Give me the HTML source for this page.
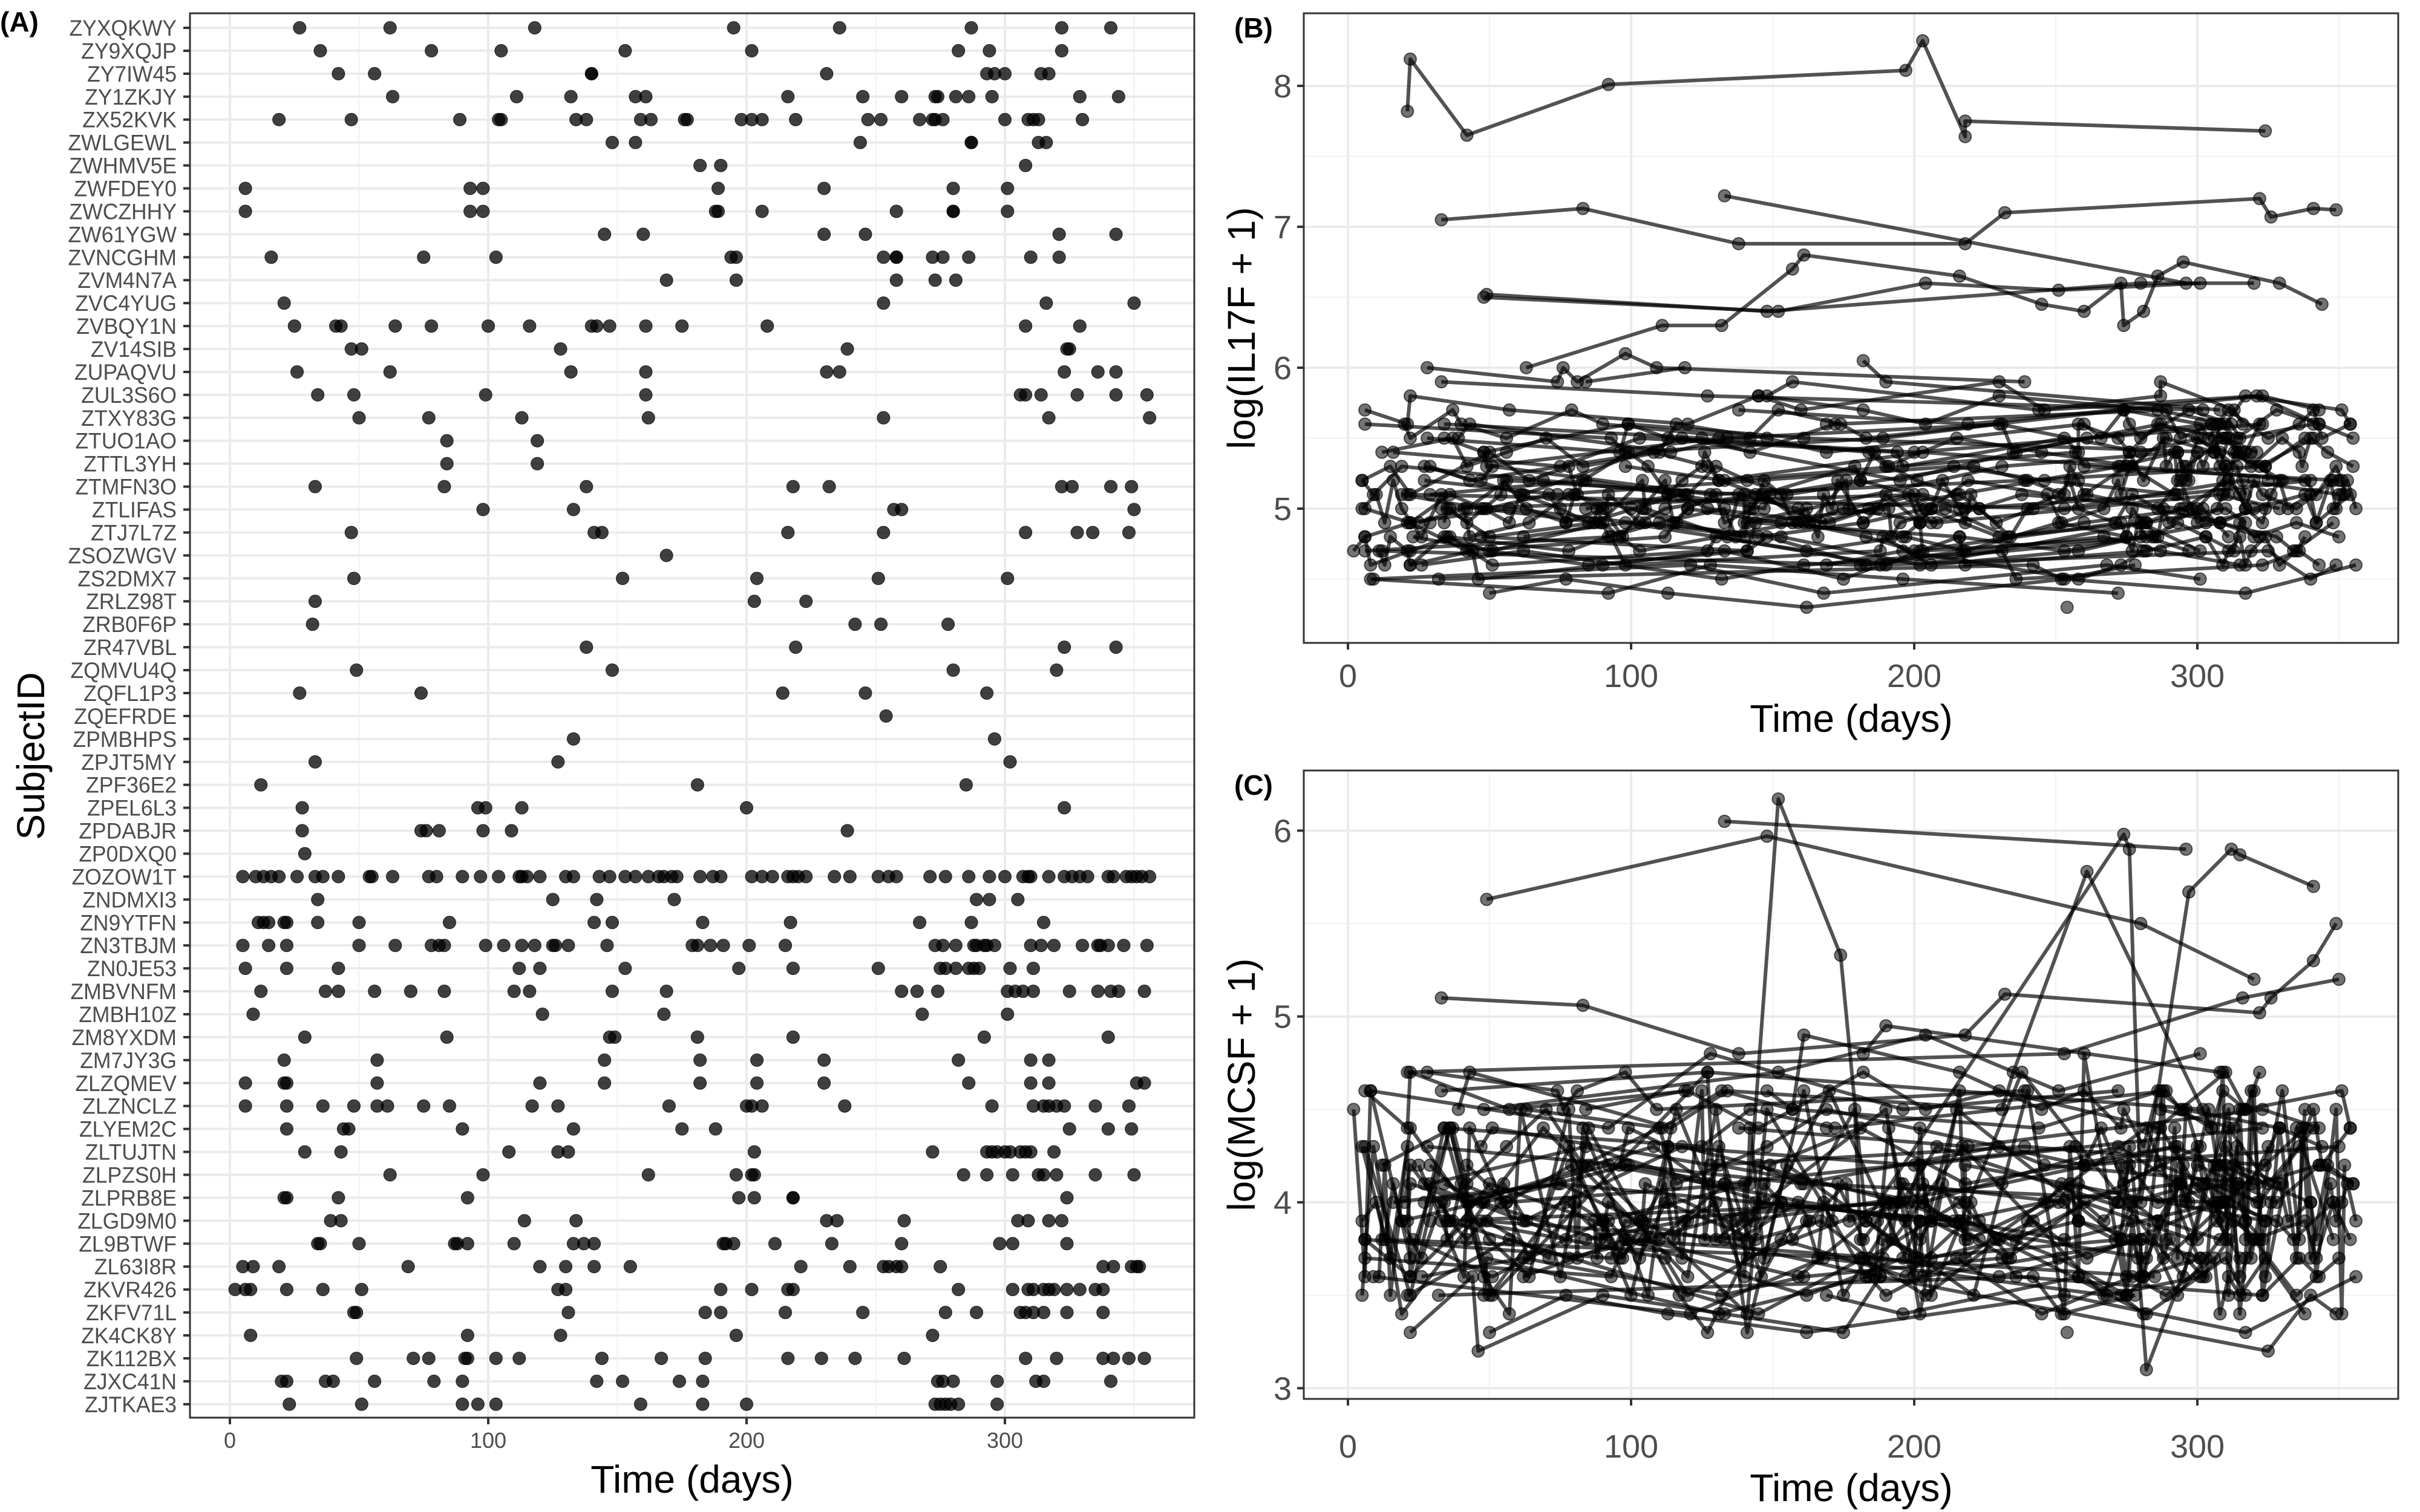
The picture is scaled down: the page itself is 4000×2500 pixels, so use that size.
<!DOCTYPE html>
<html><head><meta charset="utf-8"><style>
html,body{margin:0;padding:0;background:#fff;}
svg{display:block;font-family:"Liberation Sans",Arial,sans-serif;}
</style></head><body>
<svg id="fig" width="4000" height="2500" viewBox="0 0 4000 2500" xmlns="http://www.w3.org/2000/svg">
<rect x="0" y="0" width="4000" height="2500" fill="#fff"/>
<g id="pa"></g>
<g id="pb"></g>
<g id="pc"></g>
</svg>
<script>
const subjects = ["ZYXQKWY","ZY9XQJP","ZY7IW45","ZY1ZKJY","ZX52KVK","ZWLGEWL","ZWHMV5E","ZWFDEY0","ZWCZHHY","ZW61YGW","ZVNCGHM","ZVM4N7A","ZVC4YUG","ZVBQY1N","ZV14SIB","ZUPAQVU","ZUL3S6O","ZTXY83G","ZTUO1AO","ZTTL3YH","ZTMFN3O","ZTLIFAS","ZTJ7L7Z","ZSOZWGV","ZS2DMX7","ZRLZ98T","ZRB0F6P","ZR47VBL","ZQMVU4Q","ZQFL1P3","ZQEFRDE","ZPMBHPS","ZPJT5MY","ZPF36E2","ZPEL6L3","ZPDABJR","ZP0DXQ0","ZOZOW1T","ZNDMXI3","ZN9YTFN","ZN3TBJM","ZN0JE53","ZMBVNFM","ZMBH10Z","ZM8YXDM","ZM7JY3G","ZLZQMEV","ZLZNCLZ","ZLYEM2C","ZLTUJTN","ZLPZS0H","ZLPRB8E","ZLGD9M0","ZL9BTWF","ZL63I8R","ZKVR426","ZKFV71L","ZK4CK8Y","ZK112BX","ZJXC41N","ZJTKAE3"];
const visitDays = [
[27,62,118,195,236,287,322,341],
[35,78,105,153,202,282,294,322],
[42,56,140,140,231,293,296,300,314,317],
[63,111,132,157,161,216,245,260,273,274,281,286,295,329,344],
[19,47,89,104,105,134,138,159,163,176,177,198,202,206,219,247,252,267,272,273,276,300,309,311,313,330],
[148,157,244,287,287,313,316],
[182,190,308],
[6,93,98,189,230,280,301],
[6,93,98,188,189,206,258,280,280,301],
[145,160,230,246,321,343],
[16,75,103,194,196,253,258,258,272,276,286,310,321],
[169,196,258,273,281],
[21,253,316,350],
[25,41,43,64,78,100,116,140,142,147,161,175,208,308,329],
[47,51,128,239,324,325],
[26,62,132,161,231,236,323,336,343],
[34,48,99,161,306,308,314,328,343,355],
[50,77,113,162,253,317,356],
[84,119],
[84,119],
[33,83,138,218,232,322,326,341,349],
[98,133,257,260,350],
[47,141,144,216,253,308,328,334,348],
[169],
[48,152,204,251,301],
[33,203,223],
[32,242,252,278],
[138,219,323,343],
[49,148,280,320],
[27,74,214,246,293],
[254],
[133,296],
[33,127,302],
[12,181,285],
[28,96,99,113,200,323],
[28,74,76,81,98,109,239],
[29],
[5,10,13,16,19,26,33,36,42,54,55,63,77,80,90,97,104,112,113,115,120,130,133,143,147,153,157,162,166,168,171,173,182,187,190,202,206,210,216,218,220,223,234,240,251,255,258,271,277,286,294,300,307,309,310,317,323,326,329,332,340,342,347,349,351,353,356],
[34,125,142,172,289,294,305],
[11,13,15,21,22,34,50,85,141,148,183,217,267,287,315],
[5,15,22,50,64,78,81,83,99,106,113,118,125,126,131,146,179,181,186,191,201,215,273,276,281,288,289,292,293,296,310,314,319,330,336,337,340,346,355],
[6,22,42,112,120,153,197,218,251,275,277,281,286,288,290,302,311],
[12,37,42,56,70,83,110,116,148,169,260,266,274,301,304,307,311,325,336,341,344,354],
[9,121,168,268,301],
[29,84,147,149,181,218,292,340],
[21,57,145,182,204,230,282,310,317],
[6,21,22,57,120,145,182,204,230,286,310,317,351,354],
[6,22,36,48,57,61,75,85,117,127,170,200,202,206,238,295,311,315,317,320,323,335,348],
[22,44,46,90,133,175,188,325,340,349],
[29,43,108,127,131,203,272,293,295,297,300,302,306,308,310,319],
[62,98,162,196,202,203,284,293,303,313,315,320,335,350],
[21,22,42,92,197,203,218,218,324],
[39,43,114,134,231,235,261,305,309,317,322],
[34,35,50,87,88,92,110,133,137,141,191,192,195,211,233,260,298,303,324],
[5,9,19,69,120,130,141,155,221,240,253,255,258,260,275,338,342,349,351,352],
[2,6,8,22,36,51,127,130,190,202,216,218,282,303,309,311,315,317,319,324,329,335,338],
[48,49,131,184,190,215,245,277,289,306,308,311,315,324,338],
[8,92,128,196,272],
[49,71,77,91,92,103,112,144,167,184,216,229,242,261,308,320,338,342,348,354],
[20,22,37,40,56,79,90,142,152,174,183,274,276,280,297,312,315,341],
[23,51,90,96,103,159,183,200,273,275,277,279,282,297]
];
const il17f = [
[5.3,5.1,5.5,5.2,5.4,5.6,5.3,5.5],
[4.8,4.7,4.9,4.8,4.6,4.9,5.0,4.8],
[5.0,5.2,5.1,4.9,5.3,5.4,5.2,5.5,5.3,5.1],
[6.0,6.3,6.3,6.7,6.8,6.65,6.45,6.4,6.6,6.3,6.4,6.65,6.75,6.6,6.45],
[5.1,5.0,4.9,5.2,5.0,4.8,5.1,5.0,4.9,5.2,5.0,5.1,4.9,5.0,5.2,5.1,4.9,5.0,5.2,5.1,5.3,5.0,5.2,5.1,5.4,5.2],
[5.8,5.9,5.7,5.8,5.9,5.7,5.6],
[6.05,5.9,5.7],
[5.6,5.5,5.4,5.5,5.6,5.4,5.5],
[4.7,4.8,4.6,4.7,4.8,4.6,4.7,4.8,4.9,4.7],
[5.8,5.7,5.9,5.7,5.8,5.6],
[5.4,5.3,5.5,5.4,5.3,5.5,5.4,5.6,5.5,5.4,5.6,5.5,5.4],
[4.6,4.7,4.5,4.6,4.7],
[5.1,5.0,5.2,5.1],
[4.9,5.0,4.8,4.9,5.1,5.0,4.9,4.8,5.0,5.1,4.9,5.0,4.9,5.1,5.0],
[5.2,5.3,5.1,5.2,5.3,5.2],
[4.6,4.7,4.5,4.6,4.7,4.5,4.6,4.7,4.6],
[5.5,5.4,5.6,5.5,5.4,5.6,5.5,5.7,5.6,5.5],
[4.4,4.5,4.4,4.3,4.5,4.4,4.6],
[5.9,6.0],
[5.0,5.1],
[7.05,7.13,6.88,6.88,7.1,7.2,7.07,7.13,7.12],
[5.3,5.2,5.4,5.3,5.2],
[4.8,4.7,4.9,4.8,4.7,4.9,4.8,4.7,4.9],
[5.6],
[6.5,6.4,6.6,6.55,6.6],
[5.0,5.1,5.0],
[4.5,4.6,4.5,4.6],
[5.7,5.6,5.8,5.7],
[6.52,6.4,6.6,6.6],
[5.2,5.1,5.3,5.2,5.1],
[4.3],
[7.22,6.6],
[5.9,5.8,5.7],
[4.7,4.6,4.8],
[5.5,5.4,5.6,5.5,5.4,5.6],
[6.0,5.9,6.0,5.9,6.1,6.0,5.9],
[4.9],
[5.0,5.1,4.9,5.2,5.0,4.8,5.1,5.0,4.9,5.1,5.2,5.0,4.9,5.1,5.0,4.8,5.0,5.2,5.1,4.9,5.0,5.1,4.9,5.0,5.2,5.1,4.9,5.0,4.8,5.1,5.0,5.2,4.9,5.0,5.1,4.9,5.0,5.2,5.0,4.9,5.1,5.0,4.8,5.0,5.1,5.2,5.0,4.9,5.1,5.0,5.2,4.9,5.0,5.1,5.3,5.0,4.9,5.1,5.2,5.0,5.1,4.9,5.2,5.0,5.1,5.2,5.0],
[5.6,5.5,5.4,5.6,5.7,5.5,5.6],
[4.7,4.6,4.8,4.7,4.6,4.8,4.7,4.6,4.7,4.8,4.6,4.7,4.8,4.7,4.6],
[5.2,5.3,5.1,5.4,5.2,5.3,5.1,5.2,5.4,5.3,5.1,5.2,5.3,5.4,5.2,5.1,5.3,5.2,5.4,5.3,5.2,5.1,5.3,5.4,5.2,5.5,5.3,5.4,5.2,5.3,5.5,5.4,5.3,5.5,5.4,5.3,5.5,5.4,5.3],
[4.8,4.9,4.7,4.8,5.0,4.9,4.8,4.7,4.9,4.8,5.0,4.9,4.8,5.0,4.9,5.0,4.8],
[5.4,5.5,5.3,5.4,5.5,5.3,5.4,5.6,5.5,5.4,5.6,5.5,5.7,5.6,5.5,5.6,5.7,5.5,5.6,5.7,5.5,5.6],
[4.5,4.6,4.4,4.6,4.5],
[5.1,5.2,5.0,5.1,5.2,5.0,5.1,5.2],
[4.9,5.0,4.8,4.9,5.0,4.8,4.9,5.0,4.9],
[5.7,5.6,5.8,5.7,5.6,5.8,5.7,5.6,5.8,5.7,5.6,5.8,5.7,5.6],
[5.0,4.9,5.1,5.0,4.9,5.1,5.0,4.9,5.1,5.0,4.9,5.1,5.0,4.9,5.1,5.0,5.2,5.1,5.0,5.2,5.1,5.0,5.2],
[4.6,4.7,4.5,4.6,4.7,4.5,4.6,4.7,4.5,4.6],
[5.3,5.2,5.4,5.3,5.2,5.4,5.3,5.4,5.3,5.2,5.4,5.3,5.5,5.4,5.3,5.4],
[4.8,4.9,4.7,4.8,4.9,4.7,4.8,4.9,4.8,4.7,4.9,4.8,4.9,4.8],
[7.82,8.19,7.65,8.01,8.11,8.32,7.64,7.75,7.68],
[5.5,5.6,5.4,5.5,5.6,5.4,5.5,5.6,5.5,5.4,5.6],
[4.9,5.0,4.8,4.9,5.0,4.8,4.9,5.0,4.8,4.9,5.0,4.8,4.9,5.0,4.8,4.9,5.0,4.9,5.0],
[5.2,5.1,5.3,5.2,5.1,5.3,5.2,5.1,5.3,5.2,5.1,5.3,5.2,5.1,5.3,5.2,5.1,5.3,5.2,5.1],
[4.7,4.8,4.6,4.7,4.8,4.6,4.7,4.8,4.6,4.7,4.8,4.6,4.7,4.8,4.6,4.7,4.8,4.6,4.7,4.8,4.6,4.7,4.8],
[5.4,5.3,5.5,5.4,5.3,5.5,5.4,5.3,5.5,5.4,5.3,5.5,5.4,5.3,5.5],
[4.5,4.4,4.6,4.5,4.4],
[5.0,5.1,4.9,5.0,5.1,4.9,5.0,5.1,4.9,5.0,5.1,4.9,5.0,5.1,4.9,5.0,5.1,4.9,5.0,5.1],
[5.6,5.5,5.7,5.6,5.5,5.7,5.6,5.5,5.7,5.6,5.5,5.7,5.6,5.5,5.7,5.6,5.5,5.6],
[4.8,4.7,4.9,4.8,4.7,4.9,4.8,4.7,4.9,4.8,4.7,4.9,4.8,4.7]
];
const mcsf = [
[4.1,3.9,4.3,4.0,3.8,4.2,4.0,4.4],
[3.9,3.7,3.8,4.0,3.9,3.7,4.1,3.8],
[4.2,4.0,4.1,3.9,4.1,4.3,4.0,4.2,4.1,3.9],
[4.5,4.4,4.6,4.5,4.9,4.7,4.5,4.6,4.4,4.5,4.3,4.6,4.5,4.4,4.3],
[3.9,4.0,3.8,3.9,4.1,3.9,3.8,4.0,3.9,4.1,3.9,4.0,4.2,3.9,3.8,4.0,4.1,3.9,4.0,4.2,4.0,4.1,3.9,4.0,4.2,4.1],
[4.6,4.5,4.4,4.6,4.5,4.4,4.5],
[4.8,4.95,4.7],
[3.7,3.6,3.8,3.7,3.6,3.8,3.7],
[3.8,3.7,3.9,3.6,3.8,3.7,3.9,3.8,3.6,3.7],
[4.2,4.1,4.3,4.2,4.1,4.2],
[4.0,4.1,3.9,4.0,4.1,4.0,3.9,4.1,4.0,4.2,4.0,4.1,4.0],
[3.5,3.4,3.6,3.5,3.4],
[4.7,4.8,5.1,5.2],
[4.2,3.6,4.4,3.7,4.3,3.5,4.5,3.6,4.4,3.7,4.6,3.5,4.3,3.8,4.4],
[4.3,4.4,4.2,4.3,4.2,4.3],
[3.6,3.7,3.5,3.6,3.7,3.6,3.5,3.7,3.6],
[4.1,4.0,4.2,4.1,4.0,4.2,4.1,4.0,4.2,4.1],
[3.3,3.5,3.4,3.3,3.5,3.3,3.6],
[4.5,4.6],
[3.8,3.9],
[5.1,5.06,4.8,4.9,5.12,5.02,5.1,5.3,5.5],
[4.2,4.1,4.3,4.2,4.3],
[3.9,3.8,4.0,3.9,3.8,4.0,3.9,3.8,4.0],
[4.4],
[4.5,4.7,4.9,4.6,4.8],
[3.9,4.0,3.8],
[3.5,3.6,3.4,3.5],
[4.4,4.3,4.5,4.4],
[5.63,5.97,5.5,5.2],
[4.0,4.1,3.9,4.0,4.1],
[3.3],
[6.05,5.9],
[4.6,4.7,4.5],
[3.8,3.7,3.6],
[4.3,4.2,4.4,4.3,4.2,4.4],
[4.7,4.6,4.5,4.6,4.7,4.5,4.6],
[3.9],
[3.9,4.0,3.8,4.1,3.9,3.7,4.0,3.9,3.8,4.0,4.1,3.9,3.8,4.0,3.9,3.7,3.9,4.1,4.0,3.8,3.9,4.0,3.8,3.9,4.1,4.0,3.8,3.9,3.7,4.0,3.9,4.1,3.8,3.9,4.0,3.8,3.9,4.1,3.9,3.8,4.0,3.9,3.7,3.9,4.0,4.1,3.9,3.8,4.0,3.9,4.1,3.8,3.9,4.0,4.2,3.9,3.8,4.0,4.1,3.9,4.0,3.8,4.1,3.9,4.0,4.1,3.9],
[4.4,4.3,4.5,4.4,4.6,4.5,4.4],
[3.6,4.2,3.5,4.3,3.6,4.4,3.5,4.2,3.4,4.5,3.6,4.3,3.5,4.4,3.7],
[4.3,3.7,4.4,3.8,3.6,4.5,3.7,4.4,3.8,3.5,4.3,3.7,4.6,3.8,4.3,3.6,4.5,3.8,3.6,4.4,3.7,4.5,3.8,4.3,3.6,4.6,3.8,4.4,3.7,4.5,3.8,4.3,3.7,4.6,3.8,4.4,3.7,4.2,4.1],
[3.8,3.6,3.9,3.7,3.5,3.8,3.6,3.9,3.7,3.5,3.8,3.6,3.9,3.7,3.8,3.6,3.8],
[4.2,4.4,4.1,4.3,4.5,4.2,4.4,4.1,4.3,4.5,4.2,4.4,4.1,4.3,4.5,4.2,4.4,4.1,4.3,4.5,4.2,4.4],
[3.6,3.4,3.7,3.5,3.6],
[4.1,4.3,4.0,4.2,4.4,4.1,4.3,4.0],
[3.5,3.8,3.4,3.7,3.5,3.8,3.4,3.7,3.5],
[4.6,4.4,4.7,4.5,4.6,4.4,4.7,4.5,4.6,4.4,4.7,4.5,4.6,4.4],
[4.3,3.5,4.4,3.6,3.4,4.5,3.6,4.4,3.5,3.3,4.6,3.6,4.4,3.5,4.7,3.6,4.5,3.4,3.7,4.6,3.5,4.4,3.8],
[3.3,3.6,3.2,3.5,3.4,3.3,3.6,3.2,3.5,3.4],
[4.2,4.0,4.3,4.1,4.2,4.0,4.3,4.1,4.2,4.0,4.3,4.1,4.2,4.0,4.3,4.1],
[3.6,3.8,3.5,3.7,3.9,3.6,3.8,3.5,3.7,3.9,3.6,3.8,3.5,3.7],
[3.9,4.1,4.0,4.2,3.9,4.1,4.0,4.2,3.9],
[4.5,4.7,4.4,4.6,4.5,4.7,5.78,4.4,4.6,4.5,4.7],
[4.0,3.8,4.1,3.9,3.7,4.0,3.8,4.1,3.9,3.7,4.0,3.8,4.1,3.9,3.7,4.0,3.8,4.1,3.9],
[3.5,4.3,3.4,4.4,3.6,4.5,3.3,4.2,3.5,4.6,3.4,4.3,3.6,4.8,3.5,4.4,3.6,4.5,3.4,4.2],
[4.5,3.6,4.6,3.7,4.4,3.5,4.7,3.8,4.5,3.4,4.6,3.7,4.4,3.6,4.7,3.5,4.5,3.8,4.6,3.6,4.4,3.7,4.5],
[3.5,3.7,3.4,3.6,3.5,3.7,3.4,3.6,3.5,3.7,3.4,3.6,3.5,3.7,3.4],
[4.6,4.4,4.8,4.5,4.6],
[3.9,3.7,4.0,3.8,3.9,3.7,4.0,3.8,3.9,3.7,4.0,3.8,3.9,3.7,4.0,3.8,3.9,3.7,4.0,3.8],
[4.0,4.2,3.9,4.1,4.0,4.2,3.9,4.1,6.17,5.33,3.9,5.98,5.9,4.0,5.67,5.9,5.87,5.7],
[3.8,3.6,3.9,3.7,3.8,3.6,3.9,3.7,3.8,3.6,3.9,3.7,3.1,3.7]
];
const xTicks = [0,100,200,300];
const yTicksB = [5,6,7,8];
const yTicksC = [3,4,5,6];

const NS = "http://www.w3.org/2000/svg";
function mk(parent, tag, attrs, text){
  const e = document.createElementNS(NS, tag);
  for (const k in attrs) e.setAttribute(k, attrs[k]);
  if (text !== undefined) e.textContent = text;
  parent.appendChild(e);
  return e;
}
// ---------- Panel A ----------
const A = {l:314, r:1974, t:22, b:2344};
const axA = d => 380 + d*4.27;
const ayA = i => 46 + i*37.93;
const pa = document.getElementById('pa');
mk(pa,'rect',{x:A.l,y:A.t,width:A.r-A.l,height:A.b-A.t,fill:'#fff'});
[50,150,250,350].forEach(v=>{
  const g = mk(pa,'line',{x1:axA(v),x2:axA(v),y1:A.t,y2:A.b,stroke:'#f2f2f2','stroke-width':2});
  
  
});
xTicks.forEach(v=>{
  const g = mk(pa,'line',{x1:axA(v),x2:axA(v),y1:A.t,y2:A.b,stroke:'#ebebeb','stroke-width':4});
  
  
});
subjects.forEach((s,i)=>{
  const g = mk(pa,'line',{x1:A.l,x2:A.r,y1:ayA(i),y2:ayA(i),stroke:'#ebebeb','stroke-width':4});
  
  
});
visitDays.forEach((days,i)=>{
  days.forEach(d=>{
    const c = mk(pa,'ellipse',{cx:axA(d),cy:ayA(i),rx:10.5,ry:10.5,fill:'#000','fill-opacity':0.75,stroke:'#000','stroke-opacity':0.8,'stroke-width':1});
    
    
  });
});
mk(pa,'rect',{x:A.l,y:A.t,width:A.r-A.l,height:A.b-A.t,fill:'none',stroke:'#333','stroke-width':3});
subjects.forEach((s,i)=>{
  mk(pa,'line',{x1:A.l-11,x2:A.l,y1:ayA(i),y2:ayA(i),stroke:'#333','stroke-width':4});
  const t = mk(pa,'text',{x:A.l-22,y:ayA(i)+13,'text-anchor':'end','font-size':37,fill:'#4d4d4d',textLength:'',lengthAdjust:'spacingAndGlyphs'},s);
  t.removeAttribute('textLength');
  t.setAttribute('transform','translate('+(A.l-22)*0.04+',0) scale(0.96,1)');
  
  
});
xTicks.forEach(v=>{
  mk(pa,'line',{x1:axA(v),x2:axA(v),y1:A.b,y2:A.b+11,stroke:'#333','stroke-width':4});
  const t = mk(pa,'text',{x:axA(v),y:A.b+50,'text-anchor':'middle','font-size':36,fill:'#4d4d4d'},String(v));
  
  
});
let t;
t = mk(pa,'text',{x:1144,y:2468,'text-anchor':'middle','font-size':64,fill:'#000'},'Time (days)');


t = mk(pa,'text',{x:0,y:0,'text-anchor':'middle','font-size':64,fill:'#000',transform:'translate(73,1250) rotate(-90)'},'SubjectID');


t = mk(pa,'text',{x:0,y:52,'font-size':46,'font-weight':'bold',fill:'#000'},'(A)');



// ---------- Panels B & C ----------
function panel(id, vals, frame, v0, y0, perUnit, yTicks, minorTicks, ytitle, label, tickY, titleY, key){
  const g = document.getElementById(id);
  const ax = d => 2228 + d*4.68;
  const ay = v => y0 - (v - v0)*perUnit;
  [50,150,250,350].forEach(v=>{
    const e = mk(g,'line',{x1:ax(v),x2:ax(v),y1:frame.t,y2:frame.b,stroke:'#f2f2f2','stroke-width':2});
    
    
  });
  minorTicks.forEach(v=>{
    const e = mk(g,'line',{x1:frame.l,x2:frame.r,y1:ay(v),y2:ay(v),stroke:'#f2f2f2','stroke-width':2});
    
    
  });
  xTicks.forEach(v=>{
    const e = mk(g,'line',{x1:ax(v),x2:ax(v),y1:frame.t,y2:frame.b,stroke:'#ebebeb','stroke-width':4});
    
    
  });
  yTicks.forEach(v=>{
    const e = mk(g,'line',{x1:frame.l,x2:frame.r,y1:ay(v),y2:ay(v),stroke:'#ebebeb','stroke-width':4});
    
    
  });
  const pts = [];
  visitDays.forEach((days,i)=>{
    const vv = vals[i] || [];
    const n = Math.min(days.length, vv.length);
    const arr = [];
    for (let k=0;k<n;k++) arr.push([days[k], vv[k]]);
    arr.sort((a,b)=>a[0]-b[0]);
    if (arr.length>1){
      const p = mk(g,'polyline',{points:arr.map(q=>ax(q[0]).toFixed(1)+','+ay(q[1]).toFixed(1)).join(' '),fill:'none',stroke:'#000','stroke-opacity':0.68,'stroke-width':6,'stroke-linejoin':'round'});
      
      
    }
    arr.forEach(q=>pts.push(q));
  });
  pts.forEach(q=>{
    const c = mk(g,'circle',{cx:ax(q[0]),cy:ay(q[1]),r:10,fill:'#000','fill-opacity':0.55,stroke:'#000','stroke-opacity':0.6,'stroke-width':2});
    
    
  });
  mk(g,'rect',{x:frame.l,y:frame.t,width:frame.r-frame.l,height:frame.b-frame.t,fill:'none',stroke:'#333','stroke-width':3});
  yTicks.forEach(v=>{
    mk(g,'line',{x1:frame.l-11,x2:frame.l,y1:ay(v),y2:ay(v),stroke:'#333','stroke-width':4});
    const e = mk(g,'text',{x:frame.l-20,y:ay(v)+19,'text-anchor':'end','font-size':54,fill:'#4d4d4d'},String(v));
    
    
  });
  xTicks.forEach(v=>{
    mk(g,'line',{x1:ax(v),x2:ax(v),y1:frame.b,y2:frame.b+11,stroke:'#333','stroke-width':4});
    const e = mk(g,'text',{x:ax(v),y:tickY,'text-anchor':'middle','font-size':54,fill:'#4d4d4d'},String(v));
    
    
  });
  let e = mk(g,'text',{x:3060,y:titleY,'text-anchor':'middle','font-size':64,fill:'#000'},'Time (days)');
  
  
  e = mk(g,'text',{x:0,y:0,'text-anchor':'middle','font-size':64,fill:'#000',transform:'translate(2074,'+((frame.t+frame.b)/2)+') rotate(-90)'},ytitle);
  
  
  e = mk(g,'text',{x:2040,y:frame.t+40,'font-size':46,'font-weight':'bold',fill:'#000'},label);
  
  
}
panel('pb', il17f, {l:2155,r:3964,t:22,b:1063}, 5, 841, 233, yTicksB, [4.5,5.5,6.5,7.5], 'log(IL17F + 1)', '(B)', 1136, 1210, 'il17f');
panel('pc', mcsf, {l:2155,r:3964,t:1274,b:2313}, 4, 1988, 307.3, yTicksC, [3.5,4.5,5.5], 'log(MCSF + 1)', '(C)', 2410, 2482, 'mcsf');
</script>
</body></html>
